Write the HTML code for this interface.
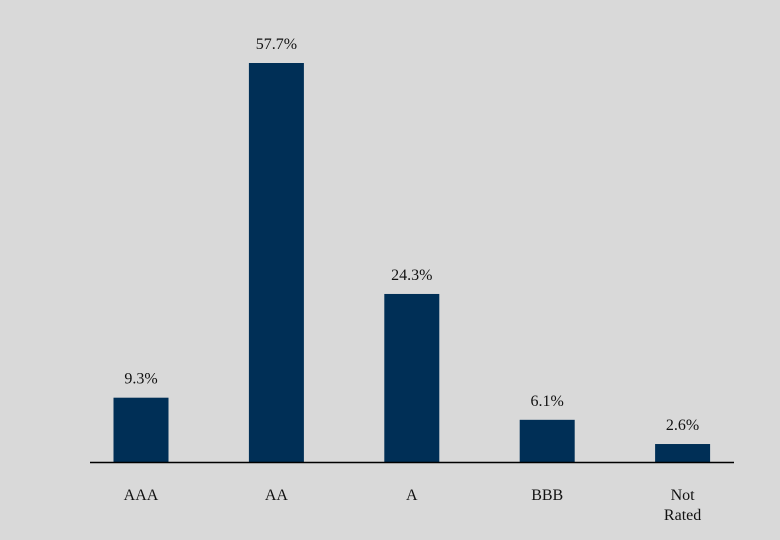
<!DOCTYPE html>
<html><head><meta charset="utf-8"><style>
html,body{margin:0;padding:0;background:#d9d9d9;}
svg{display:block;font-family:"Liberation Serif",serif;}
</style></head><body>
<svg width="780" height="540" id="chart">
<rect width="780" height="540" fill="#d9d9d9"/>
</svg>
<script>
const categories = [["AAA"],["AA"],["A"],["BBB"],["Not","Rated"]];
const values = [9.3,57.7,24.3,6.1,2.6];
const valueLabels = ["9.3%","57.7%","24.3%","6.1%","2.6%"];
const svg = document.getElementById('chart');
const NS = 'http://www.w3.org/2000/svg';
const baseY = 462, pxPer = 6.915;
const y = v => baseY - v * pxPer;
const x = i => 141 + i * 135.4;
const bw = 55;
values.forEach((v,i)=>{
  const r = document.createElementNS(NS,'rect');
  r.setAttribute('x', x(i)-bw/2); r.setAttribute('y', y(v));
  r.setAttribute('width', bw); r.setAttribute('height', baseY - y(v));
  r.setAttribute('fill', '#002f56');
  
  
  svg.appendChild(r);
  const t = document.createElementNS(NS,'text');
  t.setAttribute('x', x(i)); t.setAttribute('y', y(v)-14);
  t.setAttribute('text-anchor','middle'); t.setAttribute('font-size','16'); t.setAttribute('fill','#111');
  t.textContent = valueLabels[i];
  
  
  svg.appendChild(t);
  categories[i].forEach((line,j)=>{
    const c = document.createElementNS(NS,'text');
    c.setAttribute('x', x(i)); c.setAttribute('y', 500 + j*20);
    c.setAttribute('text-anchor','middle'); c.setAttribute('font-size','16'); c.setAttribute('fill','#111');
    c.textContent = line;
    
    
    svg.appendChild(c);
  });
});
const ax = document.createElementNS(NS,'line');
ax.setAttribute('x1',90); ax.setAttribute('x2',734); ax.setAttribute('y1',baseY+0.5); ax.setAttribute('y2',baseY+0.5);
ax.setAttribute('stroke','#000'); ax.setAttribute('stroke-width','1.5');


svg.appendChild(ax);
</script>
</body></html>
